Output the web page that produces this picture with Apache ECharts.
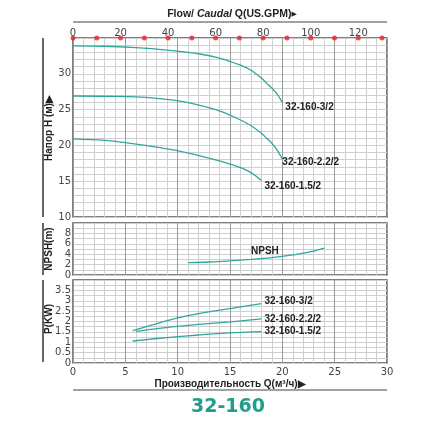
<!DOCTYPE html>
<html>
<head>
<meta charset="utf-8">
<title>32-160</title>
<script src="https://cdn.jsdelivr.net/npm/echarts@6/dist/echarts.min.js"></script>
<style>
    html, body { margin: 0; padding: 0; background: #fff; }
    #chart { width: 428px; height: 428px; }
</style>
</head>
<body>
<div id="chart"></div>
<script>
// 数据：流量 Q (m³/h) 与各曲线的值
const gpmDots = [0, 10, 20, 30, 40, 50, 60, 70, 80, 90, 100, 110, 120, 130];
const gpmPerM3h = 4.4029;

const headFlow3 = [0, 3, 6, 9, 12, 14, 16, 17, 18, 18.5, 19, 19.5, 20];
const head3 = [33.9, 33.85, 33.65, 33.3, 32.8, 32.2, 31.2, 30.5, 29.4, 28.7, 28.0, 27.2, 26.0];
const headFlow22 = [0, 4, 7, 10.5, 13.7, 15.5, 16.9, 18, 18.5, 19, 19.5, 20];
const head22 = [26.9, 26.85, 26.7, 26.1, 24.95, 23.9, 22.85, 21.7, 21.0, 20.3, 19.35, 18.1];
const headFlow15 = [0, 3, 5, 7.4, 10.5, 13.7, 15, 16.2, 17, 17.5, 18];
const head15 = [20.9, 20.7, 20.4, 19.9, 19.1, 17.95, 17.4, 16.8, 16.2, 15.7, 15.1];

const npshFlow = [11, 13, 15, 17, 19, 21, 22, 23, 24];
const npsh = [2.37, 2.5, 2.73, 3.0, 3.35, 3.85, 4.2, 4.6, 5.15];

const powerFlow3 = [5.7, 8, 10, 12, 15, 18];
const power3 = [1.56, 1.9, 2.17, 2.38, 2.62, 2.86];
const powerFlow22 = [6, 8, 10, 12, 15, 18];
const power22 = [1.52, 1.66, 1.77, 1.86, 1.98, 2.13];
const powerFlow15 = [5.7, 8, 10, 12, 15, 18];
const power15 = [1.06, 1.18, 1.27, 1.35, 1.45, 1.51];

const qMax = 30;
const headMin = 10, headMax = 35;

(function () {
    let myChart = echarts.init(document.getElementById('chart'));

    const zip = (xs, ys) => xs.map((x, i) => [x, ys[i]]);
    const curveColor = '#2fa89c';
    const labelFont = 'Liberation Sans, Arial, sans-serif';
    const tickFont = 'DejaVu Sans, Verdana, sans-serif';

    // 曲线末端的标签
    function endLabel(offset) {
        return {
            show: true,
            formatter: '{a}',
            distance: 0,
            offset: offset,
            color: '#222',
            fontSize: 10,
            fontWeight: 'bold',
            fontFamily: labelFont
        };
    }

    function curve(name, xi, yi, data, offset) {
        return {
            name: name,
            type: 'line',
            xAxisIndex: xi,
            yAxisIndex: yi,
            data: data,
            smooth: 0.3,
            showSymbol: false,
            lineStyle: { color: curveColor, width: 1.3 },
            endLabel: offset ? endLabel(offset) : { show: false },
            labelLayout: { hideOverlap: false }
        };
    }

    // 流量轴 (m³/h)
    function flowAxis(gridIndex, showLabel) {
        return {
            type: 'value',
            gridIndex: gridIndex,
            min: 0,
            max: qMax,
            interval: 5,
            axisLine: { show: false },
            axisTick: { show: false },
            axisLabel: {
                show: showLabel,
                color: '#444',
                fontSize: 10,
                fontFamily: tickFont,
                margin: 4
            },
            splitLine: { lineStyle: { color: '#9a9a9a', width: 1 } },
            minorTick: { show: false, splitNumber: 5 },
            minorSplitLine: { show: true, lineStyle: { color: '#cfcfcf', width: 1 } }
        };
    }

    function valueAxis(gridIndex, min, max, interval, minorSplit) {
        return {
            type: 'value',
            gridIndex: gridIndex,
            min: min,
            max: max,
            interval: interval,
            axisLine: { show: false },
            axisTick: { show: false },
            axisLabel: {
                color: '#444',
                fontSize: 10,
                fontFamily: tickFont,
                margin: 2,
                showMaxLabel: false
            },
            splitLine: { lineStyle: { color: '#cfcfcf', width: 1 } },
            minorTick: { show: false, splitNumber: minorSplit },
            minorSplitLine: { show: true, lineStyle: { color: '#cfcfcf', width: 1 } }
        };
    }

    const gridBase = { left: 73, right: 41, show: true, borderColor: '#555', borderWidth: 1.5 };

    let option = {
        animation: false,
        backgroundColor: '#fff',
        grid: [
            Object.assign({ top: 38, height: 179 }, gridBase),
            Object.assign({ top: 223, height: 52 }, gridBase),
            Object.assign({ top: 280, height: 83 }, gridBase)
        ],
        xAxis: [
            flowAxis(0, false),
            {
                // 上方 US.GPM 轴
                type: 'value',
                gridIndex: 0,
                position: 'top',
                min: 0,
                max: qMax * gpmPerM3h,
                interval: 20,
                axisLine: { show: false },
                axisTick: { show: false },
                splitLine: { show: false },
                axisLabel: {
                    color: '#444',
                    fontSize: 10,
                    fontFamily: tickFont,
                    margin: 0,
                    showMaxLabel: false
                }
            },
            flowAxis(1, false),
            flowAxis(2, true)
        ],
        yAxis: [
            valueAxis(0, headMin, headMax, 5, 5),
            valueAxis(1, 0, 10, 2, 2),
            valueAxis(2, 0, 4, 0.5, 2)
        ],
        series: [
            curve('32-160-3/2', 0, 0, zip(headFlow3, head3), [3, 5]),
            curve('32-160-2.2/2', 0, 0, zip(headFlow22, head22), [0, 3]),
            curve('32-160-1.5/2', 0, 0, zip(headFlow15, head15), [3, 6]),
            {
                type: 'scatter',
                xAxisIndex: 1,
                yAxisIndex: 0,
                data: gpmDots.map(g => [g, headMax]),
                symbol: 'circle',
                symbolSize: 5,
                clip: false,
                itemStyle: { color: '#e3262d' },
                z: 5
            },
            curve('NPSH', 2, 1, zip(npshFlow, npsh), null),
            curve('32-160-3/2', 3, 2, zip(powerFlow3, power3), [3, -2]),
            curve('32-160-2.2/2', 3, 2, zip(powerFlow22, power22), [3, 0]),
            curve('32-160-1.5/2', 3, 2, zip(powerFlow15, power15), [3, 0])
        ],
        graphic: [
            // 顶部标题
            {
                type: 'text', x: 232, y: 14,
                style: {
                    text: '{b|Flow/ }{i|Caudal}{b| Q(US.GPM)}{t|▶}',
                    align: 'center',
                    verticalAlign: 'middle',
                    rich: {
                        b: { fontSize: 10.5, fontWeight: 'bold', fontFamily: labelFont, fill: '#222' },
                        i: { fontSize: 10.5, fontWeight: 'bold', fontStyle: 'italic', fontFamily: labelFont, fill: '#222' },
                        t: { fontSize: 7, fontFamily: tickFont, fill: '#222' }
                    }
                }
            },
            { type: 'line', shape: { x1: 73, y1: 22, x2: 387, y2: 22 }, style: { stroke: '#444', lineWidth: 1.2 } },
            // 左侧竖条
            { type: 'line', shape: { x1: 43, y1: 38, x2: 43, y2: 217 }, style: { stroke: '#666', lineWidth: 2 } },
            { type: 'line', shape: { x1: 43, y1: 223, x2: 43, y2: 275 }, style: { stroke: '#666', lineWidth: 2 } },
            { type: 'line', shape: { x1: 43, y1: 280, x2: 43, y2: 362 }, style: { stroke: '#666', lineWidth: 2 } },
            // y轴标题
            {
                type: 'text', x: 49, y: 128, rotation: Math.PI / 2,
                style: { text: 'Напор H (м)▶', fontSize: 10, fontWeight: 'bold', fontFamily: labelFont, fill: '#222', align: 'center', verticalAlign: 'middle' }
            },
            {
                type: 'text', x: 49, y: 249, rotation: Math.PI / 2,
                style: { text: 'NPSH(m)', fontSize: 10, fontWeight: 'bold', fontFamily: labelFont, fill: '#222', align: 'center', verticalAlign: 'middle' }
            },
            {
                type: 'text', x: 49, y: 319, rotation: Math.PI / 2,
                style: { text: 'P(KW)', fontSize: 10, fontWeight: 'bold', fontFamily: labelFont, fill: '#222', align: 'center', verticalAlign: 'middle' }
            },
            {
                type: 'text', x: 251, y: 251, z: 10,
                style: { text: 'NPSH', fontSize: 10, fontWeight: 'bold', fontFamily: labelFont, fill: '#222', align: 'left', verticalAlign: 'middle' }
            },
            // 底部标题
            {
                type: 'text', x: 230, y: 384,
                style: { text: 'Производительность Q(м³/ч)▶', fontSize: 10, fontWeight: 'bold', fontFamily: labelFont, fill: '#222', align: 'center', verticalAlign: 'middle' }
            },
            { type: 'line', shape: { x1: 73, y1: 390, x2: 387, y2: 390 }, style: { stroke: '#444', lineWidth: 1.2 } },
            {
                type: 'text', x: 228, y: 407,
                style: { text: '32-160', fontSize: 19, fontWeight: 'bold', fontFamily: tickFont, fill: '#1f9e8a', align: 'center', verticalAlign: 'middle' }
            }
        ]
    };

    myChart.setOption(option);

    window.addEventListener('resize', function () {
        myChart.resize();
    });
})();
</script>
</body>
</html>
